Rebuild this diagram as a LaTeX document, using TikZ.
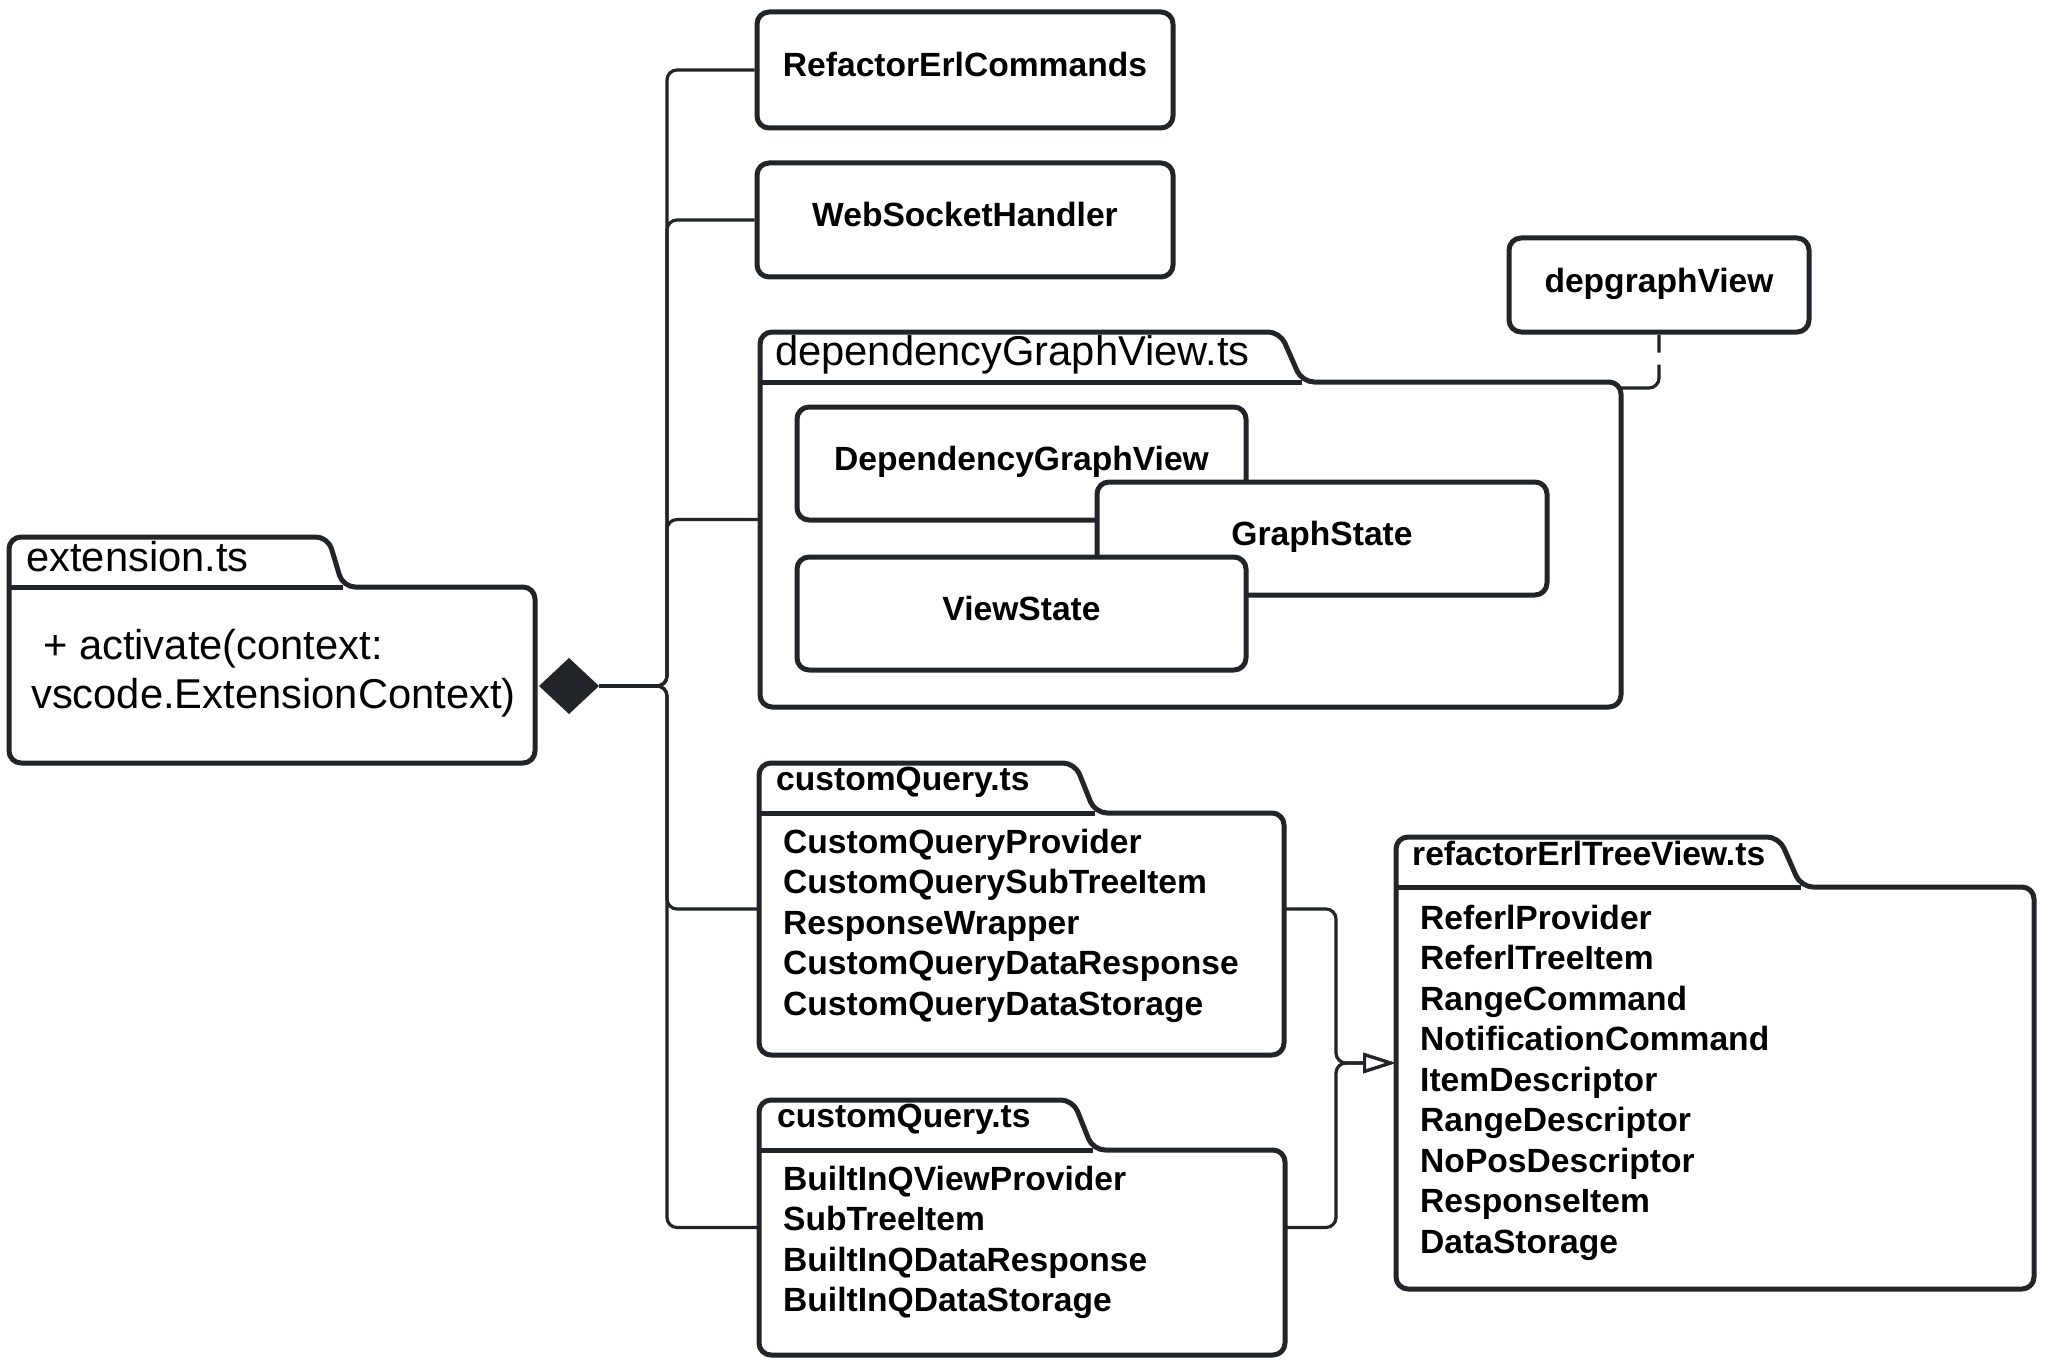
\documentclass[tikz,border=0pt]{standalone}
\usepackage{fontspec}
\setmainfont{Liberation Sans}
\usetikzlibrary{arrows.meta,calc}
\definecolor{ln}{HTML}{212529}
\newcommand\bigreg{\fontsize{41.7}{49}\selectfont}
\newcommand\bigbold{\fontsize{33.6}{40.5}\selectfont\bfseries}
\newcommand\pkgdraw[3]{%
  \draw[pkline] (#1.south west) -- (#1.north west) -- ++(#2,0) -- ++(#3,50) -| (#1.south east) -- cycle;
  \draw[pkline, rounded corners=0pt] ($(#1.north west)+(0,50)$) -- ++(#2+#3,0);
}
\begin{document}
\begin{tikzpicture}[x=1pt,y=-1pt,line join=round,
  box/.style={draw=ln, line width=5pt, rounded corners=12pt, fill=white, inner sep=0pt,
    font=\bigbold, text height=24pt, text depth=10pt},
  frame/.style={draw=none, inner sep=0pt, outer sep=0pt},
  pkline/.style={draw=ln, line width=5pt, rounded corners=12pt},
  conn/.style={draw=ln, line width=3.2pt, rounded corners=10pt},
  lbl/.style={inner sep=0pt, anchor=base west}]
\fill[white] (0,0) rectangle (2050,1372);
\useasboundingbox (0,0) rectangle (2050,1372);

% package frames (full extent incl. tab)
\node[frame, minimum width=526pt, minimum height=226pt] (ext) at (272,650) {};
\node[frame, minimum width=861pt, minimum height=375pt] (dep) at (1190.5,519.5) {};
\node[frame, minimum width=525pt, minimum height=292pt] (cq1) at (1021.5,909) {};
\node[frame, minimum width=526pt, minimum height=255pt] (cq2) at (1022,1227.5) {};
\node[frame, minimum width=638pt, minimum height=452pt] (tree) at (1715,1063) {};

\coordinate (dj) at ($(ext.east)+(4,36)$);
\coordinate (dtip) at ($(dj)+(60,0)$);
\coordinate (depR) at ($(dep.north east)+(0,56)$);

% connectors from the composition diamond
\draw[conn] (dtip) -- ++(68,0) |- (cq2.west);
\draw[conn] (dtip) -- ++(68,0) |- (cq1.west);
\draw[conn] (dtip) -- ++(68,0) |- (dep.west);

% packages
\pkgdraw{ext}{319}{15}
\pkgdraw{dep}{520}{22}
\pkgdraw{cq1}{316}{20}
\pkgdraw{cq2}{314}{20}
\pkgdraw{tree}{383}{22}

% simple boxes
\node[box, minimum width=416pt, minimum height=116pt] (rec) at (965,70) {RefactorErlCommands};
\node[box, minimum width=416pt, minimum height=114pt] (ws) at (965,220) {WebSocketHandler};
\node[box, minimum width=300pt, minimum height=94pt] (dgview) at (1659,285) {depgraphView};
\node[box, minimum width=449pt, minimum height=113pt] (dgv) at (1021.5,463.5) {DependencyGraphView};
\node[box, minimum width=450pt, minimum height=113pt] (gs) at (1322,538.5) {GraphState};
\node[box, minimum width=449pt, minimum height=113pt] (vs) at (1021.5,613.5) {ViewState};

\draw[conn] (dtip) -- ++(68,0) |- (rec.west);
\draw[conn] (dtip) -- ++(68,0) |- (ws.west);
\fill[ln] (dj) -- ++(30,-28) -- ++(30,28) -- ++(-30,28) -- cycle;

\draw[conn, dash pattern=on 18pt off 12pt on 300pt off 0pt] (dgview.south) |- (depR);

\draw[conn, -{Triangle[length=33pt, width=20pt, fill=white]}] (cq1.east) -- ++(52,0) |- (tree.west);
\draw[conn, -{Triangle[length=33pt, width=20pt, fill=white]}] (cq2.east) -- ++(51,0) |- (tree.west);

% texts
\node[lbl, font=\bigreg] (extlbl) at (26,571) {extension.ts};
\node[lbl, font=\bigreg] (ext1) at (43,659) {+ activate(context:};
\node[lbl, font=\bigreg] (ext2) at (31,708) {vscode.ExtensionContext)};
\node[lbl, font=\bigreg] (deplbl) at (775,365) {dependencyGraphView.ts};
\node[lbl, font=\bigbold] (cq1lbl) at (776,790) {customQuery.ts};
\node[lbl, font=\bigbold] (cq1list) at (783,853) {\begin{tabular}[t]{@{}l@{}}CustomQueryProvider\\CustomQuerySubTreeItem\\ResponseWrapper\\CustomQueryDataResponse\\CustomQueryDataStorage\end{tabular}};
\node[lbl, font=\bigbold] (cq2lbl) at (777,1127) {customQuery.ts};
\node[lbl, font=\bigbold] (cq2list) at (783,1190) {\begin{tabular}[t]{@{}l@{}}BuiltInQViewProvider\\SubTreeItem\\BuiltInQDataResponse\\BuiltInQDataStorage\end{tabular}};
\node[lbl, font=\bigbold] (treelbl) at (1412,865) {refactorErlTreeView.ts};
\node[lbl, font=\bigbold] (treelist) at (1420,929) {\begin{tabular}[t]{@{}l@{}}ReferlProvider\\ReferlTreeItem\\RangeCommand\\NotificationCommand\\ItemDescriptor\\RangeDescriptor\\NoPosDescriptor\\ResponseItem\\DataStorage\end{tabular}};
\end{tikzpicture}
\end{document}
